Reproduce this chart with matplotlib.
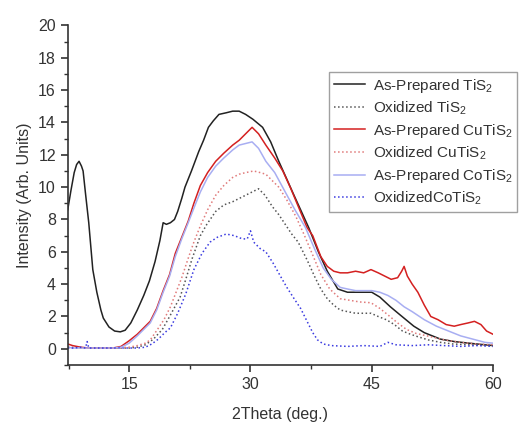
import matplotlib
matplotlib.use("Agg")
import matplotlib.pyplot as plt
from matplotlib.ticker import MultipleLocator

plt.rcParams['font.family'] = ['Liberation Sans', 'DejaVu Sans']
plt.rcParams['mathtext.default'] = 'regular'

# As-Prepared TiS2
x_ap_tis2 = [7.4, 7.8, 8.2, 8.5, 8.8, 9.1, 9.3, 9.6, 10.0, 10.5, 11.0, 11.5, 11.8, 12.5, 13.2,
             13.9, 14.5, 15.2, 16.0, 16.8, 17.5, 18.2, 18.8, 19.2, 19.6, 20.1, 20.6, 21.0, 21.5,
             21.9, 22.7, 23.6, 24.2, 24.8, 25.4, 26.1, 27.0, 27.8, 28.6, 29.4, 30.3, 31.5, 32.5,
             33.5, 34.4, 35.2, 36.2, 37.2, 38.4, 39.5, 40.8, 42.0, 43.0, 44.0, 45.0, 46.0, 47.3,
             48.5, 50.2, 51.5, 53.5, 55.2, 57.0, 59.0, 60.0]
y_ap_tis2 = [8.6, 9.8, 10.9, 11.4, 11.6, 11.3, 11.0, 9.6, 7.8, 4.9, 3.5, 2.4, 1.9, 1.35, 1.1,
             1.05, 1.15, 1.6, 2.4, 3.3, 4.2, 5.4, 6.7, 7.8, 7.7, 7.8, 8.0, 8.5, 9.3,
             10.0, 11.0, 12.2, 12.9, 13.7, 14.1, 14.5, 14.6, 14.7, 14.7, 14.5, 14.2, 13.7, 12.8,
             11.6, 10.6, 9.7, 8.6, 7.5, 6.0, 4.8, 3.7, 3.5, 3.5, 3.5, 3.5, 3.2, 2.6,
             2.1, 1.4, 1.0, 0.6, 0.45, 0.35, 0.25, 0.2]

# Oxidized TiS2
x_ox_tis2 = [7.4, 9, 11, 13, 15, 16, 17, 18, 19.1, 20.0, 21.3, 22.0, 22.8, 23.8, 24.6, 25.7,
             26.7, 27.8, 28.6, 29.4, 30.2, 31.0, 31.8, 32.7, 33.5, 34.3, 35.1, 35.9, 37.0, 38.0,
             38.7, 39.5, 40.3, 41.1, 42.0, 43.0, 44.0, 44.9, 45.8, 46.8, 47.8, 48.8, 49.8, 50.7,
             52.0, 53.5, 55.0, 57.0, 60.0]
y_ox_tis2 = [0.1, 0.05, 0.05, 0.05, 0.05, 0.1, 0.25, 0.6, 1.2, 2.0, 3.2, 4.3, 5.6, 7.0, 7.7, 8.5,
             8.9, 9.1, 9.3, 9.5, 9.7, 9.9, 9.5, 8.8, 8.3, 7.7, 7.1, 6.6, 5.5, 4.4,
             3.7, 3.1, 2.7, 2.4, 2.3, 2.2, 2.2, 2.2, 2.0, 1.8, 1.5, 1.1, 0.9, 0.75,
             0.55, 0.4, 0.3, 0.25, 0.2]

# As-Prepared CuTiS2
x_ap_cu = [7.4, 8, 9, 10, 11, 12, 13, 14, 15, 16, 16.8, 17.6, 18.4, 19.2, 20.0, 20.7, 21.5,
           22.3, 23.0, 23.8, 24.7, 25.7, 26.7, 27.8, 28.6, 29.4, 30.2, 31.0, 31.9, 33.0, 34.0,
           35.0, 36.0, 37.0, 37.7, 38.7, 39.5, 40.3, 41.1, 42.0, 43.0, 44.0, 44.9, 45.8, 46.6,
           47.4, 48.2, 48.7, 49.0, 49.4, 50.0, 50.7, 51.5, 52.3, 53.2, 54.2, 55.2, 56.0, 56.9,
           57.7, 58.5, 59.2, 60.0]
y_ap_cu = [0.3, 0.2, 0.1, 0.05, 0.05, 0.05, 0.05, 0.15, 0.5, 0.9, 1.3, 1.7, 2.5, 3.6, 4.6, 5.9, 6.9,
           7.9, 9.0, 10.1, 10.9, 11.6, 12.1, 12.6, 12.9, 13.3, 13.7, 13.3, 12.6, 11.8, 11.0,
           9.9, 8.7, 7.5, 7.0, 5.7, 5.1, 4.8, 4.7, 4.7, 4.8, 4.7, 4.9, 4.7, 4.5,
           4.3, 4.4, 4.8, 5.1, 4.5, 4.0, 3.5, 2.7, 2.0, 1.8, 1.5, 1.4, 1.5, 1.6,
           1.7, 1.5, 1.1, 0.9]

# Oxidized CuTiS2
x_ox_cu = [7.4, 9, 11, 13, 15, 16, 17, 17.6, 18.5, 19.3, 20.1, 20.8, 21.5, 22.3, 23.0, 23.8,
           24.7, 25.7, 26.7, 27.8, 28.6, 29.4, 30.4, 31.2, 31.9, 32.7, 33.5, 34.5, 35.6, 36.6,
           37.7, 38.7, 39.8, 41.1, 42.3, 43.5, 44.9, 46.0, 47.0, 48.2, 49.3, 50.5, 52.3, 54.0,
           56.0, 58.0, 60.0]
y_ox_cu = [0.1, 0.05, 0.05, 0.05, 0.1, 0.2, 0.35, 0.55, 1.2, 1.8, 2.6, 3.5, 4.4, 5.6, 6.6, 7.6,
           8.6, 9.5, 10.1, 10.6, 10.8, 10.9, 11.0, 10.9, 10.8, 10.4, 10.0, 9.2, 8.2, 7.1,
           5.8, 4.6, 3.7, 3.1, 3.0, 2.9, 2.85, 2.5, 2.1, 1.6, 1.2, 0.95, 0.75, 0.55,
           0.4, 0.3, 0.25]

# As-Prepared CoTiS2
x_ap_co = [7.4, 8, 9, 10, 11, 12, 13, 14, 15, 16, 16.8, 17.6, 18.4, 19.2, 20.0, 20.7, 21.5,
           22.3, 23.0, 23.8, 24.7, 25.7, 26.7, 27.8, 28.6, 29.4, 30.2, 31.0, 31.9, 33.0, 34.3,
           35.5, 36.8, 38.0, 39.0, 40.0, 41.1, 42.0, 43.0, 44.0, 45.0, 46.0, 47.0, 48.0, 49.0,
           50.0, 51.5, 53.0, 54.5, 56.0, 57.5, 59.0, 60.0]
y_ap_co = [0.1, 0.05, 0.05, 0.05, 0.05, 0.05, 0.05, 0.1, 0.35, 0.8, 1.2, 1.6, 2.4, 3.5, 4.5, 5.7, 6.8,
           7.8, 8.7, 9.7, 10.6, 11.3, 11.8, 12.3, 12.6, 12.7, 12.8, 12.4, 11.6, 10.9, 9.7,
           8.6, 7.5, 6.1, 5.0, 4.3, 3.8, 3.7, 3.6, 3.6, 3.6, 3.5, 3.3, 3.0, 2.6,
           2.3, 1.8, 1.4, 1.1, 0.8, 0.6, 0.4, 0.35]

# Oxidized CoTiS2
x_ox_co = [7.4, 8, 9, 9.6, 9.8, 10.0, 11, 12, 13, 14, 15, 16, 17, 17.8, 18.6, 19.4, 20.1, 21.0,
           22.0, 23.0, 24.0, 25.0, 25.9, 27.0, 28.0, 29.0, 29.6, 30.0, 30.4, 31.2, 31.9, 32.8,
           33.7, 34.5, 35.4, 36.2, 37.0, 37.7, 38.3, 39.0, 40.0, 42.0, 44.0, 46.0, 47.0, 48.0,
           50.0, 52.0, 54.0, 56.0, 58.0, 60.0]
y_ox_co = [0.05, 0.05, 0.1, 0.05, 0.45, 0.05, 0.05, 0.05, 0.05, 0.05, 0.05, 0.05, 0.1, 0.3, 0.6, 1.0, 1.3, 2.2,
           3.4, 4.9, 5.9, 6.6, 6.9, 7.1, 7.0, 6.8, 6.8, 7.3, 6.6, 6.2, 6.0, 5.3,
           4.5, 3.8, 3.1, 2.5, 1.7, 1.0, 0.55, 0.3, 0.2, 0.15, 0.2, 0.15, 0.4, 0.25,
           0.2, 0.25, 0.2, 0.15, 0.2, 0.15]

labels = ['As-Prepared TiS$_2$', 'Oxidized TiS$_2$', 'As-Prepared CuTiS$_2$',
          'Oxidized CuTiS$_2$', 'As-Prepared CoTiS$_2$', 'OxidizedCoTiS$_2$']

fig = plt.figure(figsize=(5.19, 4.26), dpi=100)
ax = fig.add_axes([0.1305, 0.1432, 0.8195, 0.797])

ax.plot(x_ap_tis2, y_ap_tis2, color='#222222', lw=1.1, ls='-', label=labels[0])
ax.plot(x_ox_tis2, y_ox_tis2, color='#555555', lw=1.1, ls=':', label=labels[1])
ax.plot(x_ap_cu, y_ap_cu, color='#d42020', lw=1.1, ls='-', label=labels[2])
ax.plot(x_ox_cu, y_ox_cu, color='#e07a7a', lw=1.1, ls=':', label=labels[3])
ax.plot(x_ap_co, y_ap_co, color='#a8aef2', lw=1.1, ls='-', label=labels[4])
ax.plot(x_ox_co, y_ox_co, color='#3a3ae0', lw=1.1, ls=':', label=labels[5])

ax.set_xlim(7.4, 60)
ax.set_ylim(-1, 20)
ax.xaxis.set_major_locator(MultipleLocator(15))
ax.xaxis.set_minor_locator(MultipleLocator(7.5))
ax.yaxis.set_major_locator(MultipleLocator(2))
ax.yaxis.set_minor_locator(MultipleLocator(1))
for s in ['top', 'right']:
    ax.spines[s].set_visible(False)
for s in ['left', 'bottom']:
    ax.spines[s].set_color('#333333')
    ax.spines[s].set_linewidth(1.2)
ax.tick_params(which='major', direction='out', length=5, width=1.2, colors='#333333',
               labelsize=11.5, labelcolor='#333333')
ax.tick_params(which='minor', direction='out', length=3, width=1.0, colors='#333333')

ax.set_xlabel('2Theta (deg.)', fontsize=11.5, color='#333333', labelpad=11)
ax.set_ylabel('Intensity (Arb. Units)', fontsize=11.5, color='#333333', labelpad=4)

leg = fig.legend(loc='upper left', bbox_to_anchor=(0.634, 0.831), bbox_transform=fig.transFigure,
                 fontsize=11.0, frameon=True, fancybox=False, handlelength=2.05,
                 labelspacing=0.32, borderaxespad=0, borderpad=0.3, handletextpad=0.5)
leg.get_frame().set_edgecolor('#888888')
leg.get_frame().set_linewidth(1.0)
for t in leg.get_texts():
    t.set_color('#333333')

fig.savefig('out.png', dpi=100)
